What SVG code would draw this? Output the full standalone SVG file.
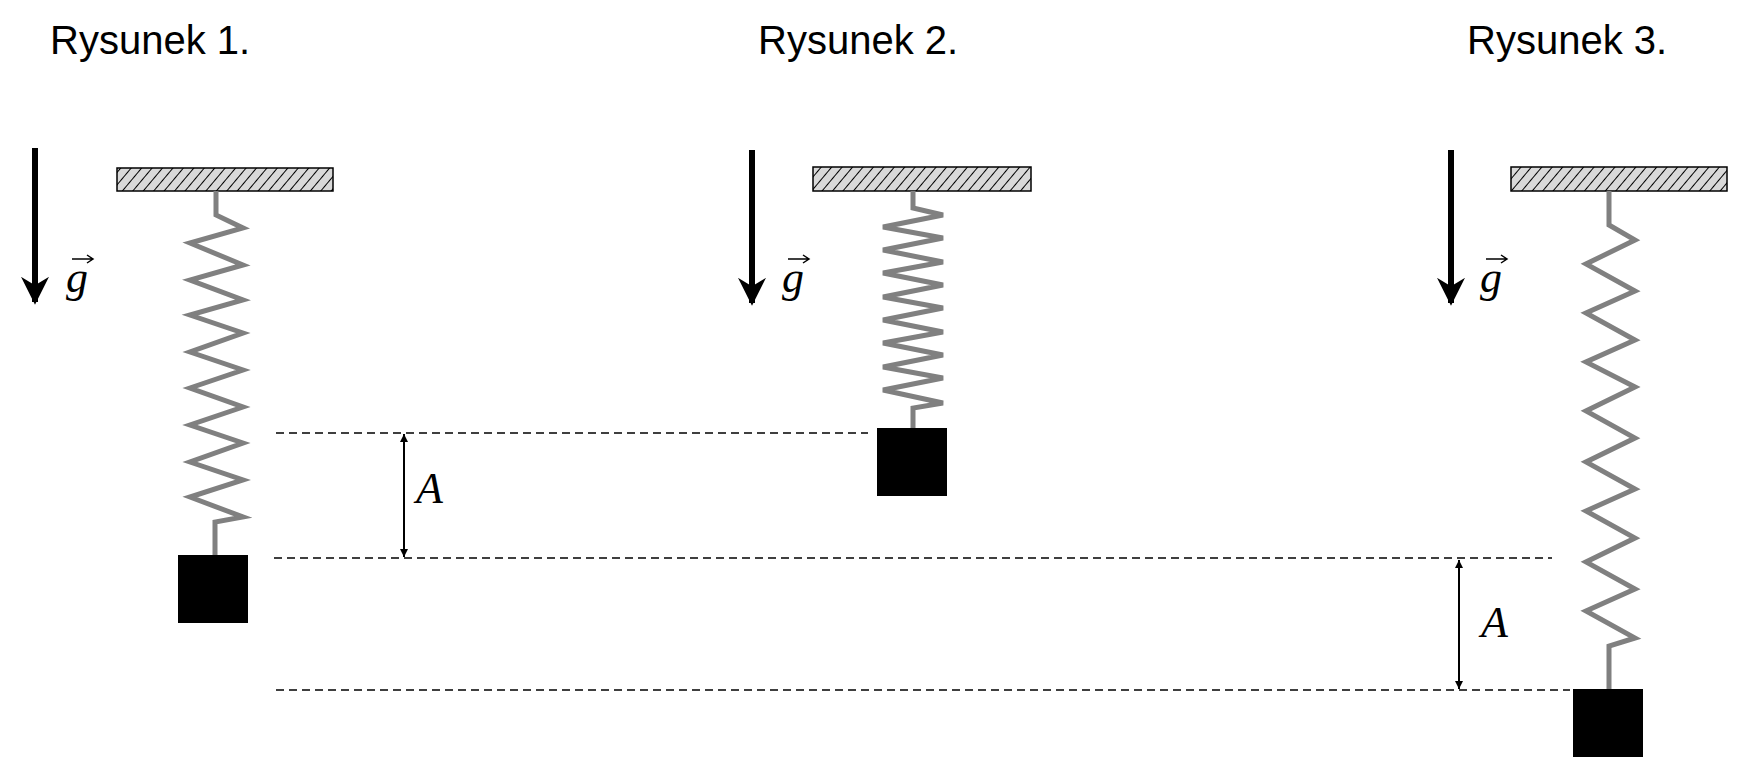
<svg xmlns="http://www.w3.org/2000/svg" width="1749" height="776" viewBox="0 0 1749 776">
<defs>
<pattern id="hatch" width="8" height="8" patternUnits="userSpaceOnUse" patternTransform="rotate(40)">
<rect width="8" height="8" fill="#d9d9d9"/>
<line x1="0" y1="0" x2="0" y2="8" stroke="#000" stroke-width="2"/>
</pattern>
<marker id="ah" viewBox="0 0 10 10" refX="10" refY="5" markerWidth="8" markerHeight="8" markerUnits="userSpaceOnUse" orient="auto-start-reverse"><path d="M0,0 L10,5 L0,10 z" fill="#000"/></marker>
<marker id="gh" viewBox="0 0 10 10" refX="9" refY="5" markerWidth="28" markerHeight="28" markerUnits="userSpaceOnUse" orient="auto"><path d="M0,0 L10,5 L0,10 L3,5 z" fill="#000"/></marker>
</defs>
<style>
.t{font-family:"Liberation Sans",Arial,sans-serif;font-size:40px;fill:#000}
.m{font-family:"Liberation Serif","DejaVu Serif",serif;font-style:italic;fill:#000}
.bar{fill:url(#hatch);stroke:#000;stroke-width:1.5}
.spr{fill:none;stroke:#808080;stroke-width:5;stroke-linejoin:miter}
.blk{fill:#000}
.g{stroke:#000;stroke-width:6;marker-end:url(#gh)}
.dash{stroke:#000;stroke-width:1.5;stroke-dasharray:8,5;fill:none}
.dim{stroke:#000;stroke-width:2;marker-start:url(#ah);marker-end:url(#ah)}
.va{stroke:#000;stroke-width:1.5;fill:none}
</style>
<text class="t" x="50" y="54">Rysunek 1.</text>
<text class="t" x="758" y="54">Rysunek 2.</text>
<text class="t" x="1467" y="54">Rysunek 3.</text>

<g id="fig1">
<line class="g" x1="35" y1="148" x2="35" y2="302"/>
<text class="m" x="66" y="292" font-size="44">g</text>
<path class="va" d="M72,259 H92 M87,255 L93,259 L87,263"/>
<rect class="bar" x="117" y="168" width="216" height="23"/>
<polyline class="spr" points="216,191 216,215 243,228 190,243 243,265 190,280 243,300 190,315 243,333 190,352 243,370 190,388 243,407 190,425 243,443 190,462 243,480 190,497 243,517 215,522 215,555"/>
<rect class="blk" x="178" y="555" width="70" height="68"/>
</g>

<g id="fig2">
<line class="g" x1="752" y1="150" x2="752" y2="303"/>
<text class="m" x="782" y="292" font-size="44">g</text>
<path class="va" d="M788,259 H808 M803,255 L809,259 L803,263"/>
<rect class="bar" x="813" y="167" width="218" height="24"/>
<polyline class="spr" points="913,191 913,208 943,215 883,227 943,238 883,250 943,262 883,273 943,285 883,297 943,308 883,320 943,332 883,343 943,355 883,367 943,378 883,390 943,403 913,408 913,428"/>
<rect class="blk" x="877" y="428" width="70" height="68"/>
</g>

<g id="fig3">
<line class="g" x1="1451" y1="150" x2="1451" y2="303"/>
<text class="m" x="1480" y="292" font-size="44">g</text>
<path class="va" d="M1486,259 H1506 M1501,255 L1507,259 L1501,263"/>
<rect class="bar" x="1511" y="167" width="216" height="24"/>
<polyline class="spr" points="1609,191 1609,225 1635,240 1586,264 1635,291 1586,313 1635,340 1586,362 1635,387 1586,411 1635,438 1586,462 1635,489 1586,511 1635,538 1586,562 1635,589 1586,611 1635,638 1609,646 1609,689"/>
<rect class="blk" x="1573" y="689" width="70" height="68"/>
</g>

<g id="connectors">
<line class="dash" x1="276" y1="433" x2="868" y2="433"/>
<line class="dash" x1="274" y1="558" x2="1552" y2="558"/>
<line class="dash" x1="276" y1="690" x2="1570" y2="690"/>
<line class="dim" x1="404" y1="434" x2="404" y2="557"/>
<line class="dim" x1="1459" y1="560" x2="1459" y2="689"/>
</g>
<text class="m" x="416" y="503" font-size="44">A</text>
<text class="m" x="1481" y="637" font-size="44">A</text>
</svg>
